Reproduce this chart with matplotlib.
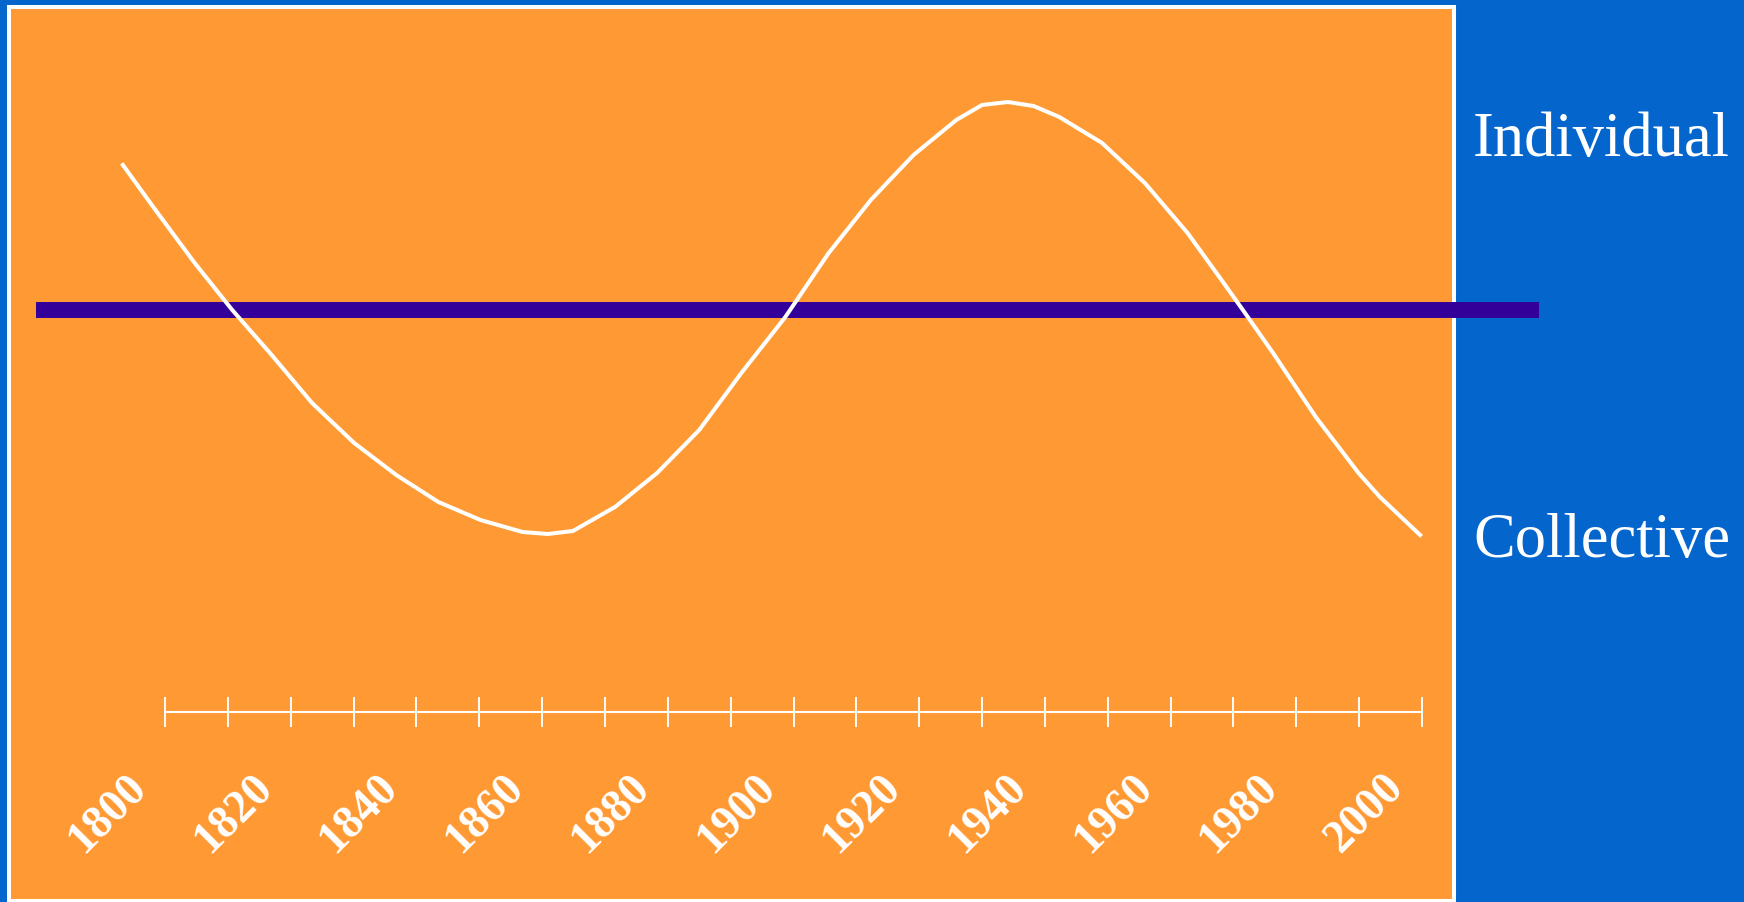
import matplotlib.pyplot as plt
from matplotlib.patches import Rectangle
from matplotlib.transforms import offset_copy

# swing of the curve over time (0 = midline, + individual, - collective)
years = [1793.3, 1797.9, 1804.6, 1810.7, 1816.7, 1823.4, 1830.1, 1836.8,
         1843.5, 1850.2, 1856.9, 1860.9, 1864.9, 1871.6, 1878.3, 1885.0,
         1891.7, 1898.7, 1905.6, 1912.3, 1919.1, 1925.9, 1930.0, 1934.1,
         1938.2, 1942.3, 1949.1, 1955.9, 1962.7, 1968.1, 1971.5, 1976.3,
         1983.1, 1989.9, 1993.3, 1999.7]
orientation = [14.5, 10.5, 4.8, 0.0, -4.3, -9.3, -13.3, -16.5,
               -19.2, -21.0, -22.2, -22.4, -22.1, -19.7, -16.3, -12.0,
               -6.3, -0.7, 5.7, 11.0, 15.5, 19.0, 20.5, 20.8,
               20.4, 19.3, 16.7, 12.7, 7.7, 3.0, 0.0, -4.3,
               -10.7, -16.3, -18.7, -22.5]

tick_years = list(range(1800, 2001, 10))
label_years = list(range(1800, 2001, 20))
top_label = "Individual"
bottom_label = "Collective"

BLUE = '#0466CC'
ORANGE = '#FF9933'
PURPLE = '#330099'

W, H = 1744, 902
fig = plt.figure(figsize=(W / 100, H / 100), dpi=100)
fig.patch.set_facecolor(BLUE)


def px_box(left, top, right, bottom):
    return [left / W, 1 - bottom / H, (right - left) / W, (bottom - top) / H]


# orange panel with white frame
l, t, r, b = 9, 7, 1454, 900.5
panel = Rectangle((l / W, 1 - b / H), (r - l) / W, (b - t) / H,
                  transform=fig.transFigure, facecolor=ORANGE,
                  edgecolor='white', linewidth=2.9, zorder=-1)
fig.patches.append(panel)

ax = fig.add_axes(px_box(l, t, r, b))
ax.patch.set_visible(False)


# pixel -> data helpers for the axes limits
def px_to_year(p):
    return 1800 + (p - 165) * 200 / (1422 - 165)


def px_to_val(p):
    return (310 - p) / 10


ax.set_xlim(px_to_year(l), px_to_year(r))
ax.set_ylim(px_to_val(b), px_to_val(t))
axis_y = px_to_val(711.7)

for side in ['left', 'right', 'top']:
    ax.spines[side].set_visible(False)
ax.spines['bottom'].set_position(('data', axis_y))
ax.spines['bottom'].set_bounds(1800, 2000)
ax.spines['bottom'].set_color('white')
ax.spines['bottom'].set_linewidth(1.5)
ax.set_xticks(tick_years)
ax.set_yticks([])
ax.tick_params(axis='x', direction='inout', length=21, width=1.4,
               color='white', labelbottom=False)

label_tr = offset_copy(ax.transData, fig=fig, x=-57, y=-102, units='dots')
for yr in label_years:
    ax.text(yr, axis_y, str(yr), transform=label_tr, rotation=45,
            rotation_mode='anchor', ha='center', va='center', fontsize=33,
            fontweight='bold', family='Liberation Serif', color='white')

# midline bar runs past the panel into the blue margin
ax.axhline(0, xmin=(35.6 - l) / (r - l), xmax=(1539 - l) / (r - l),
           color=PURPLE, linewidth=11.5, solid_capstyle='butt',
           clip_on=False, zorder=2)

ax.plot(years, orientation, color='white', linewidth=2.9, zorder=3,
        solid_joinstyle='round')

fig.text(1473 / W, 1 - 156 / H, top_label, ha='left', va='baseline',
         fontsize=45, family='Liberation Serif', color='white')
fig.text(1473 / W, 1 - 557 / H, bottom_label, ha='left', va='baseline',
         fontsize=45, family='Liberation Serif', color='white')

fig.savefig('out.png', dpi=100, facecolor=fig.get_facecolor())
